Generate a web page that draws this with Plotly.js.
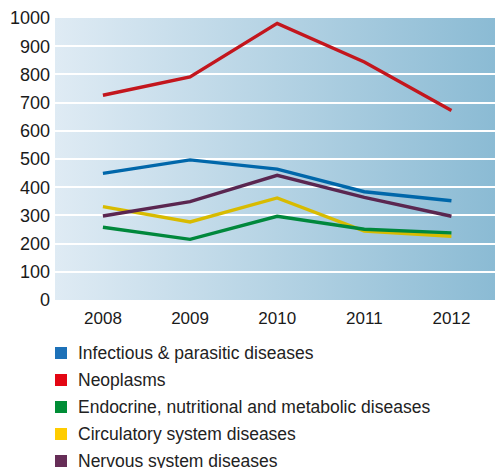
<!DOCTYPE html>
<html>
<head>
<meta charset="utf-8">
<script src="https://cdn.plot.ly/plotly-3.0.1.min.js"></script>
<style>
  html, body { margin: 0; padding: 0; background: #ffffff; }
  #chart { width: 497px; height: 468px; }
</style>
</head>
<body>
<div id="chart"></div>
<script>
// ---- Data ----
const years = [2008, 2009, 2010, 2011, 2012];
const seriesNames = [
  "Infectious & parasitic diseases",
  "Neoplasms",
  "Endocrine, nutritional and metabolic diseases",
  "Circulatory system diseases",
  "Nervous system diseases"
];
const infectious = [449, 497, 464, 384, 352];
const neoplasms  = [726, 791, 981, 844, 672];
const endocrine  = [258, 215, 297, 251, 238];
const circulatory = [331, 277, 362, 244, 226];
const nervous    = [298, 349, 442, 364, 297];
const yTicks = [0, 100, 200, 300, 400, 500, 600, 700, 800, 900, 1000];

// ---- Styles ----
const lineColors = ["#0067aa", "#c3161d", "#00883c", "#d8bb00", "#5a2650"];
const legendColors = ["#1d71b8", "#e30613", "#008d36", "#ffcc00", "#662d57"];
const seriesValues = [infectious, neoplasms, endocrine, circulatory, nervous];
const drawOrder = [3, 2, 4, 0, 1];

const W = 497, H = 468;
const M = { l: 55, r: 2, t: 18, b: 168 };
const PW = W - M.l - M.r, PH = H - M.t - M.b;
const px2x = p => (p - M.l) / PW;
const py2y = p => (H - M.b - p) / PH;

const traces = [];
drawOrder.forEach(i => {
  traces.push({
    type: "scatter", mode: "lines",
    x: years, y: seriesValues[i],
    line: { color: lineColors[i], width: 3.4 },
    showlegend: false, hoverinfo: "skip", name: seriesNames[i]
  });
});

const fontFam = "Liberation Sans, Arial, Helvetica, sans-serif";

// ---- Custom legend (squares + labels below the plot) ----
const legendTop = 353, legendStep = 27, sq = 12, sqLeft = 55, textLeft = 76;
const shapes = [];
const annotations = [];
seriesNames.forEach((n, i) => {
  const cy = legendTop + i * legendStep;
  shapes.push({
    type: "rect", xref: "paper", yref: "paper", layer: "above",
    x0: px2x(sqLeft), x1: px2x(sqLeft + sq),
    y0: py2y(cy - sq / 2), y1: py2y(cy + sq / 2),
    fillcolor: legendColors[i], line: { width: 0 }
  });
  annotations.push({
    xref: "paper", yref: "paper", x: px2x(textLeft), y: py2y(cy),
    xanchor: "left", yanchor: "middle", showarrow: false,
    text: n, font: { size: 17.5, family: fontFam, color: "#222222" }
  });
});

const gradSvg = '<svg xmlns="http://www.w3.org/2000/svg" width="100" height="100" preserveAspectRatio="none">' +
  '<defs><linearGradient id="g" x1="0" y1="0" x2="1" y2="0">' +
  '<stop offset="0" stop-color="#dfebf4"/><stop offset="1" stop-color="#8bbbd4"/>' +
  '</linearGradient></defs><rect width="100" height="100" fill="url(#g)"/></svg>';
const gradUri = "data:image/svg+xml;charset=utf-8," + encodeURIComponent(gradSvg);

const layout = {
  width: W, height: H,
  margin: { l: M.l, r: M.r, t: M.t, b: M.b, pad: 0 },
  paper_bgcolor: "#ffffff",
  plot_bgcolor: "rgba(0,0,0,0)",
  font: { family: fontFam, color: "#1a1a1a" },
  showlegend: false,
  images: [{
    source: gradUri, xref: "paper", yref: "paper",
    x: 0, y: 1, sizex: 1, sizey: 1, sizing: "stretch",
    xanchor: "left", yanchor: "top", layer: "below"
  }],
  shapes: shapes,
  annotations: annotations,
  xaxis: {
    range: [2007.45, 2012.5],
    tickvals: years, ticktext: years.map(String),
    showgrid: false, zeroline: false, showline: false,
    ticks: "", ticklen: 0, ticklabelstandoff: 6,
    tickfont: { size: 17, family: fontFam, color: "#1a1a1a" },
    fixedrange: true
  },
  yaxis: {
    range: [0, 1000],
    tickvals: yTicks,
    showgrid: true, gridcolor: "#ffffff", gridwidth: 2,
    zeroline: false, showline: false,
    ticks: "", ticklen: 0, ticklabelstandoff: 4,
    tickfont: { size: 18, family: fontFam, color: "#1a1a1a" },
    fixedrange: true
  }
};

Plotly.newPlot("chart", traces, layout, { displayModeBar: false, staticPlot: true });
</script>
</body>
</html>
